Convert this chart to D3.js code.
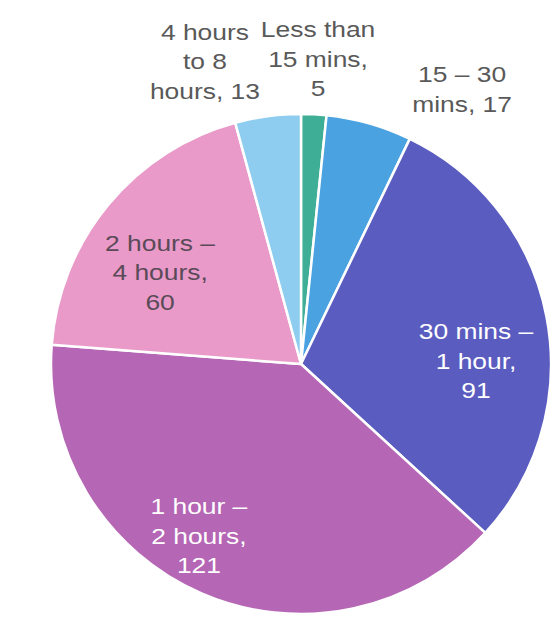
<!DOCTYPE html>
<html>
<head>
<meta charset="utf-8">
<script src="https://cdn.jsdelivr.net/npm/d3@7"></script>
<style>
  html, body { margin: 0; padding: 0; background: #ffffff; }
  svg { display: block; }
</style>
</head>
<body>
<svg id="chart" width="560" height="617"></svg>
<script>
const categories = ["Less than 15 mins", "15 – 30 mins", "30 mins – 1 hour", "1 hour – 2 hours", "2 hours – 4 hours", "4 hours to 8 hours"];
const values = [5, 17, 91, 121, 60, 13];
const colors = ["#3fae96", "#4aa3e0", "#5a5cc0", "#b566b4", "#e99ac8", "#8ecdf0"];
const labelLines = [
  ["Less than", "15 mins,", "5"],
  ["15 – 30", "mins, 17"],
  ["30 mins –", "1 hour,", "91"],
  ["1 hour –", "2 hours,", "121"],
  ["2 hours –", "4 hours,", "60"],
  ["4 hours", "to 8", "hours, 13"]
];
const labelColors = ["#595959", "#595959", "#ffffff", "#ffffff", "#5a4a58", "#595959"];
// label placement in polar form: [radius factor, angle in degrees clockwise from top]
const labelPolar = [[1.222, 3.2], [1.275, 30.35], [0.70, 89.0], [0.80, 210.7], [0.673, 303.1], [1.271, 342.4]];

const svg = d3.select("#chart");
const cx = 301, cy = 364, r = 250;
const g = svg.append("g").attr("transform", `translate(${cx},${cy})`);

const pie = d3.pie().sort(null).value(d => d)(values);
const arc = d3.arc().innerRadius(0).outerRadius(r);

g.selectAll("path.slice").data(pie).enter().append("path")
  .attr("class", "slice")
  .attr("d", arc)
  .attr("fill", (d, i) => colors[i])
  .attr("stroke", "#ffffff")
  .attr("stroke-width", 2.5)
  .attr("stroke-linejoin", "round");

const lineH = 29.5;
pie.forEach((d, i) => {
  const [rf, deg] = labelPolar[i];
  const a = deg * Math.PI / 180;
  const x = Math.sin(a) * r * rf, y = -Math.cos(a) * r * rf;
  const lines = labelLines[i];
  const t = g.append("text")
    .attr("text-anchor", "middle")
    .attr("font-family", "'Liberation Sans', Arial, sans-serif")
    .attr("font-size", 22)
    .attr("fill", labelColors[i])
    .attr("transform", `translate(${x},${y}) scale(1.2,1)`);
  lines.forEach((s, j) => {
    t.append("tspan").attr("x", 0)
      .attr("y", (j - (lines.length - 1) / 2) * lineH + 8)
      .text(s);
  });
});
</script>
</body>
</html>
